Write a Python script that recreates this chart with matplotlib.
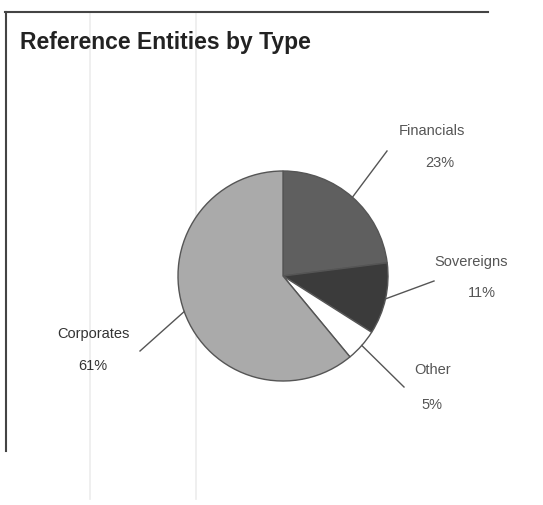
import numpy as np
import matplotlib
matplotlib.use("Agg")
import matplotlib.pyplot as plt

categories = ["Financials", "Sovereigns", "Other", "Corporates"]
shares = [23, 11, 5, 61]
pct_labels = ["23%", "11%", "5%", "61%"]
colors = ["#5f5f5f", "#3b3b3b", "#ffffff", "#aaaaaa"]

W, H = 543, 506
fig = plt.figure(figsize=(W / 100, H / 100), dpi=100)
fig.patch.set_facecolor("white")
ax = fig.add_axes([0, 0, 1, 1])
ax.set_xlim(0, W)
ax.set_ylim(0, H)
ax.set_aspect("equal")
ax.axis("off")

# frame (scanned box edges)
ax.plot([5, 488], [H - 13, H - 13], color="#444444", lw=1.5)
ax.plot([6, 6], [H - 13, H - 452], color="#444444", lw=1.5)
# faint scan artifacts
for xv in [90, 196]:
    ax.plot([xv, xv], [H - 14, H - 500], color="#ececec", lw=1.2, zorder=0)

cx, cy, r = 283, H - 277, 105
wedges, _ = ax.pie(shares, colors=colors, startangle=90, counterclock=False,
                   center=(cx, cy), radius=r,
                   wedgeprops=dict(edgecolor="#555555", linewidth=1.0))
ax.set_xlim(0, W)
ax.set_ylim(0, H)

fig.text(20 / W, 1 - 42 / H, "Reference Entities by Type", fontsize=16.5,
         fontweight="bold", family="Liberation Sans", color="#222222",
         va="center", ha="left")

# label positions (name center, pct center, leader end)
label_pos = {
    "Financials": ((432, H - 131), (440, H - 163), (387, H - 152)),
    "Sovereigns": ((471, H - 262), (482, H - 293), (434, H - 282)),
    "Other": ((433, H - 370), (432, H - 405), (404, H - 388)),
    "Corporates": ((93, H - 334), (93, H - 366), (140, H - 352)),
}
for w, cat, pct in zip(wedges, categories, pct_labels):
    mid = np.deg2rad((w.theta1 + w.theta2) / 2)
    sx, sy = cx + r * np.cos(mid), cy + r * np.sin(mid)
    (nx, ny), (px, py), (ex, ey) = label_pos[cat]
    tc = "#333333" if cat == "Corporates" else "#555555"
    ax.plot([sx, ex], [sy, ey], color="#555555", lw=1.0)
    ax.text(nx, ny, cat, fontsize=10.5, family="Liberation Sans", color=tc,
            ha="center", va="center")
    ax.text(px, py, pct, fontsize=10.5, family="Liberation Sans", color=tc,
            ha="center", va="center")

fig.savefig("out.png", dpi=100)
